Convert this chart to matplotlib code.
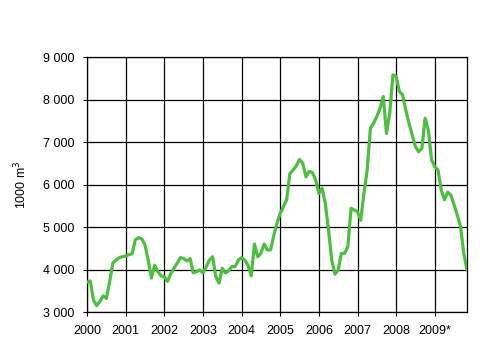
"""Monthly volume chart, 2000-2009."""

import matplotlib

matplotlib.use("Agg")
import matplotlib.pyplot as plt
import numpy as np

years = ["2000", "2001", "2002", "2003", "2004", "2005", "2006", "2007", "2008", "2009*"]

# monthly values, 1000 m3, Jan 2000 - Nov 2009
values = [
    3700, 3730, 3280, 3150, 3250, 3380, 3320, 3700, 4150, 4220, 4280, 4300,
    4320, 4350, 4370, 4700, 4750, 4720, 4580, 4220, 3800, 4100, 3950, 3850,
    3830, 3720, 3900, 4030, 4150, 4280, 4260, 4200, 4260, 3920, 3950, 3990,
    3920, 4060, 4220, 4300, 3830, 3680, 4030, 3920, 3970, 4070, 4070, 4220,
    4280, 4220, 4100, 3850, 4600, 4300, 4380, 4600, 4460, 4460, 4800, 5090,
    5320, 5480, 5640, 6260, 6340, 6440, 6590, 6500, 6180, 6310, 6280, 6110,
    5790, 5910, 5560, 4930, 4220, 3890, 3990, 4380, 4380, 4540, 5440, 5400,
    5360, 5160, 5790, 6340, 7320, 7440, 7600, 7790, 8070, 7200, 7670, 8580,
    8540, 8190, 8110, 7750, 7440, 7160, 6890, 6770, 6850, 7560, 7280, 6580,
    6420, 6340, 5870, 5640, 5820, 5750, 5520, 5280, 5010, 4380, 3990,
]

yticks = [3000, 4000, 5000, 6000, 7000, 8000, 9000]

plt.rcParams["font.family"] = ["Liberation Sans", "DejaVu Sans"]

fig = plt.figure(figsize=(5.01, 3.48), dpi=100)
ax = fig.add_axes([0.1737, 0.1034, 0.7584, 0.7328])

x = np.arange(len(values))
ax.plot(x, values, color="#4CBF3F", linewidth=2.3, solid_joinstyle="round", zorder=3)

ax.set_xlim(0, len(values) - 1)
ax.set_ylim(3000, 9000)
ax.set_xticks(np.arange(len(years)) * 12)
ax.set_xticklabels(years, fontsize=9)
ax.set_yticks(yticks)
ax.set_yticklabels([f"{v:,}".replace(",", " ") for v in yticks], fontsize=9)
ax.tick_params(axis="both", direction="out", length=3, width=0.8, color="black")
ax.tick_params(axis="x", pad=6)
ax.tick_params(axis="y", pad=6)

ax.grid(True, color="black", linewidth=0.9)
ax.set_axisbelow(True)
for spine in ax.spines.values():
    spine.set_color("black")
    spine.set_linewidth(0.9)

ax.set_ylabel("1000 m$^3$", fontsize=9, labelpad=10)

fig.savefig("out.png", dpi=100)
